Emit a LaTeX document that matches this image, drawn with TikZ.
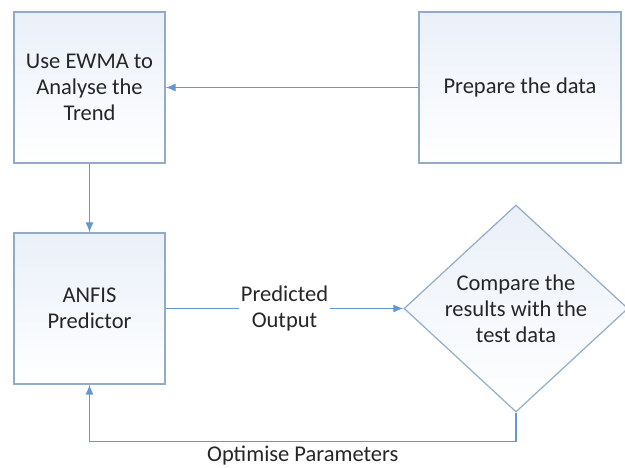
\documentclass[tikz,border=0pt]{standalone}
\usepackage{fontspec}
\setmainfont{Carlito}
\usetikzlibrary{shapes.geometric,arrows.meta}
\definecolor{boxline}{RGB}{146,172,200}
\definecolor{flowblue}{RGB}{98,152,205}
\definecolor{boxfill}{RGB}{234,240,249}
\definecolor{inktext}{RGB}{38,38,38}

\begin{document}
\begin{tikzpicture}
[x=1pt,y=-1pt,%
  every node/.style={font=\fontsize{22.5}{26}\selectfont,text=inktext,align=center},%
  stage/.style={draw=boxline,line width=1.2pt,top color=boxfill,bottom color=white,%
    minimum width=151pt,minimum height=151pt,inner sep=0pt},%
  decision/.style={diamond,draw=boxline,line width=1.2pt,top color=boxfill,bottom color=white,%
    minimum width=224pt,minimum height=207pt,inner sep=0pt},%
  flow/.style={-{Latex[length=10pt,width=8pt]},draw=flowblue,line width=1.2pt}]
\useasboundingbox (0,0) rectangle (625,468);
\node[stage] (ewma) at (89.5,87.5) {Use EWMA to\\Analyse the\\Trend};
\node[stage,minimum width=202pt] (prep) at (520,87.5) {Prepare the data};
\node[stage] (anfis) at (89.5,308.5) {ANFIS\\Predictor};
\node[decision] (cmp) at (516,308.5) {};
\node (cmptext) at (cmp) {Compare the\\results with the\\test data};
\draw[flow] (prep) -- (ewma);
\draw[flow] (ewma) -- (anfis);
\draw[flow] (anfis) -- node[fill=white,inner sep=2pt] {Predicted\\Output} (cmp);
\draw[flow] (cmp.south) -- ++(0,29) coordinate (fb)
  -| (anfis.south) node[pos=0.25,below] {Optimise Parameters};
\end{tikzpicture}
\end{document}
